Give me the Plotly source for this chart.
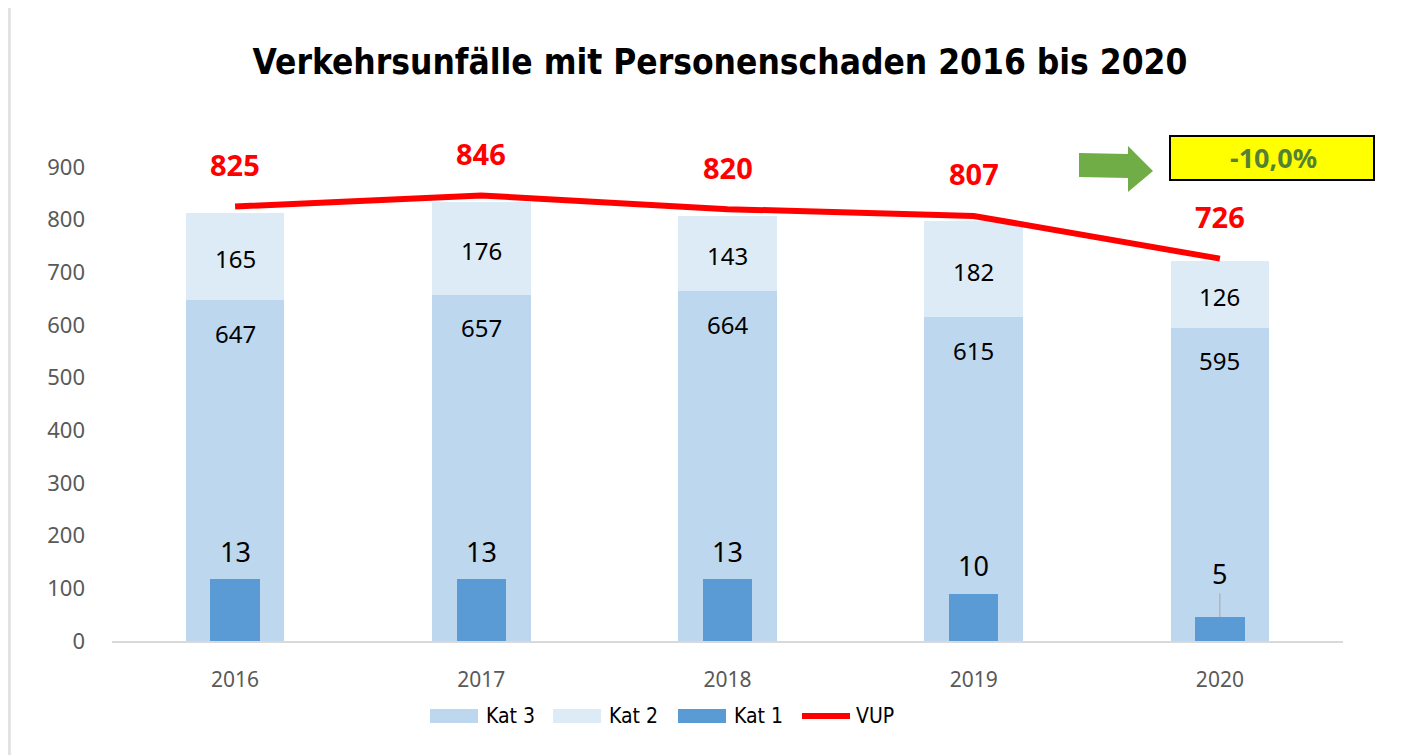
import plotly.graph_objects as go

years = ["2016", "2017", "2018", "2019", "2020"]
kat3 = [647, 657, 664, 615, 595]
kat2 = [165, 176, 143, 182, 126]
kat1 = [13, 13, 13, 10, 5]
vup = [825, 846, 820, 807, 726]
change_label = "-10,0%"

C_K3 = "#BDD7EE"
C_K2 = "#DDEBF7"
C_K1 = "#5B9BD5"
C_VUP = "#FF0000"
TXT = "#595959"
LBL_FONT = "Noto Sans, Open Sans, sans-serif"
TITLE_FONT = "Liberation Sans Narrow, DejaVu Sans Condensed, sans-serif"

W, H = 1416, 755
OFF = 8  # page body margin
# plot area in screen pixels: 112..1343 x, 167..641 y
SL, SR, ST, SB = 112, 1343, 167, 641
L, R, T, B = SL - OFF, SR - OFF, ST - OFF, SB - OFF

def px(x):  # screen x -> paper
    return (x - SL) / (SR - SL)
def py(y):  # screen y -> paper
    return (SB - y) / (SB - ST)

fig = go.Figure()
fig.add_trace(go.Bar(x=years, y=kat3, name="Kat 3", marker_color=C_K3, width=0.4,
                     marker_line_width=0, yaxis="y"))
fig.add_trace(go.Bar(x=years, y=kat2, name="Kat 2", marker_color=C_K2, width=0.4,
                     marker_line_width=0, yaxis="y"))
fig.add_trace(go.Bar(x=years, y=kat1, name="Kat 1", marker_color=C_K1, width=0.2,
                     marker_line_width=0, yaxis="y2"))
fig.add_trace(go.Scatter(x=years, y=vup, name="VUP", mode="lines",
                         line=dict(color=C_VUP, width=6), yaxis="y"))

ann = []
for i, yr in enumerate(years):
    # category index used as annotation x (category axis)
    ann.append(dict(x=i, y=kat3[i], xref="x", yref="y", text=str(kat3[i]),
                    showarrow=False, yanchor="middle", yshift=-33,
                    font=dict(family=LBL_FONT, size=24, color="#000000")))
    ann.append(dict(x=i, y=kat3[i] + kat2[i] / 2, xref="x", yref="y", text=str(kat2[i]),
                    showarrow=False, yanchor="middle", yshift=-2,
                    font=dict(family=LBL_FONT, size=24, color="#000000")))
    ann.append(dict(x=i, y=vup[i], xref="x", yref="y", text="<b>%d</b>" % vup[i],
                    showarrow=False, yanchor="middle", yshift=42,
                    font=dict(family=LBL_FONT, size=29, color=C_VUP)))
    if i < len(years) - 1:
        ann.append(dict(x=i, y=kat1[i], xref="x", yref="y2", text=str(kat1[i]),
                        showarrow=False, yanchor="middle", yshift=28,
                        font=dict(family=LBL_FONT, size=27, color="#000000")))
    else:
        ann.append(dict(x=i, y=kat1[i], xref="x", yref="y2", text=str(kat1[i]),
                        showarrow=True, arrowhead=0, arrowwidth=1, arrowcolor="#A6A6A6",
                        ax=0, ay=-44, standoff=0,
                        font=dict(family=LBL_FONT, size=27, color="#000000")))

# change box text
ann.append(dict(x=px(1273), y=py(158), xref="paper", yref="paper", text="<b>%s</b>" % change_label,
                showarrow=False, xanchor="center", yanchor="middle",
                font=dict(family=LBL_FONT, size=27, color="#548235")))

# legend (custom)
leg_y = 716
items = [("Kat 3", C_K3, 430, "bar"), ("Kat 2", C_K2, 553, "bar"),
         ("Kat 1", C_K1, 678, "bar"), ("VUP", C_VUP, 800, "line")]
shapes = []
for name, col, x0, kind in items:
    if kind == "bar":
        shapes.append(dict(type="rect", xref="paper", yref="paper",
                           x0=px(x0), x1=px(x0 + 48), y0=py(leg_y + 7), y1=py(leg_y - 7),
                           fillcolor=col, line_width=0))
    else:
        shapes.append(dict(type="line", xref="paper", yref="paper",
                           x0=px(x0 + 2), x1=px(x0 + 50), y0=py(leg_y), y1=py(leg_y),
                           line=dict(color=col, width=6)))
    ann.append(dict(x=px(x0 + 54), y=py(leg_y), xref="paper", yref="paper", text=name,
                    showarrow=False, xanchor="left", yanchor="middle",
                    font=dict(family=TITLE_FONT, size=21, color="#000000")))

# left grey border remnant
shapes.append(dict(type="rect", xref="paper", yref="paper", x0=px(0), x1=px(OFF + 1.5),
                   y0=py(800), y1=py(0), fillcolor="#E3E3E3", line_width=0, layer="below"))
shapes.append(dict(type="line", xref="paper", yref="paper", x0=px(OFF + 2), x1=px(OFF + 2),
                   y0=py(800), y1=py(0), line=dict(color="#CFCFCF", width=1), layer="below"))

# green arrow
arrow_pts = [(1079, 153), (1128, 154), (1128, 146), (1153, 171), (1128, 192), (1128, 178), (1079, 177)]
path = "M " + " L ".join("%.5f,%.5f" % (px(x), py(y)) for x, y in arrow_pts) + " Z"
shapes.append(dict(type="path", xref="paper", yref="paper", path=path,
                   fillcolor="#70AD47", line_width=0))
# yellow box
shapes.append(dict(type="rect", xref="paper", yref="paper", x0=px(1170), x1=px(1374),
                   y0=py(180), y1=py(136), fillcolor="#FFFF00",
                   line=dict(color="#000000", width=2)))

fig.update_layout(
    width=W, height=H,
    paper_bgcolor="white", plot_bgcolor="white",
    barmode="stack", bargap=0.6,
    showlegend=False,
    margin=dict(l=L, r=W - R, t=T, b=H - B),
    title=dict(text="<b>Verkehrsunfälle mit Personenschaden 2016 bis 2020</b>",
               x=(720 - OFF) / W, xref="container", xanchor="center",
               y=1 - (62 - OFF) / H, yref="container", yanchor="middle",
               font=dict(family=TITLE_FONT, size=35, color="#000000")),
    xaxis=dict(type="category", range=[-0.5, len(years) - 0.5], showgrid=False,
               showline=True, linecolor="#D9D9D9", linewidth=1.5,
               ticks="", ticklabelstandoff=19,
               tickfont=dict(family=LBL_FONT, size=21, color=TXT)),
    yaxis=dict(range=[0, 900], dtick=100, showgrid=False, zeroline=False, showline=False,
               ticks="", ticklabelstandoff=26,
               tickfont=dict(family=LBL_FONT, size=22, color=TXT)),
    yaxis2=dict(range=[0, 100], overlaying="y", side="right", visible=False),
    annotations=ann, shapes=shapes,
)

fig.write_html("out.html")
